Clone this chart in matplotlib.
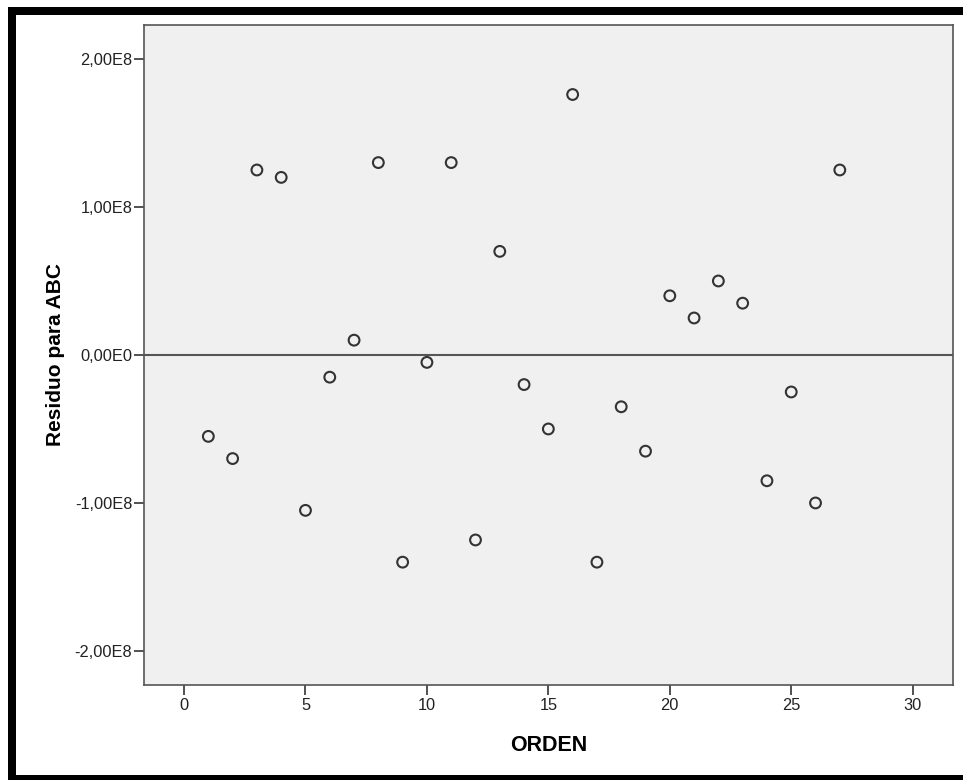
import matplotlib
matplotlib.use("Agg")
import matplotlib.pyplot as plt
from matplotlib.patches import Rectangle
from matplotlib.ticker import FuncFormatter

# data (residuals in units of 1e8)
orden = list(range(1, 28))
residuo = [-0.55, -0.70, 1.25, 1.20, -1.05, -0.15, 0.10, 1.30, -1.40, -0.05,
           1.30, -1.25, 0.70, -0.20, -0.50, 1.76, -1.40, -0.35, -0.65, 0.40,
           0.25, 0.50, 0.35, -0.85, -0.25, -1.00, 1.25]
residuo = [v * 1e8 for v in residuo]

x_ticks = [0, 5, 10, 15, 20, 25, 30]
y_ticks = [-2e8, -1e8, 0, 1e8, 2e8]

plt.rcParams["font.family"] = ["Liberation Sans", "DejaVu Sans"]

fig = plt.figure(figsize=(9.63, 7.8), dpi=100)
ax = fig.add_axes([0.1495, 0.1218, 0.8401, 0.8462])
ax.set_facecolor("#f0f0f0")

ax.axhline(0, color="#555555", lw=1.5, zorder=1)
ax.scatter(orden, residuo, s=60, facecolors="none", edgecolors="#333333",
           linewidths=1.5, zorder=3)

ax.set_xlim(-1.65, 31.66)
ax.set_ylim(-2.23e8, 2.23e8)
ax.set_xticks(x_ticks)
ax.set_yticks(y_ticks)


def fmt(v, pos):
    if v == 0:
        return "0,00E0"
    return ("%.2fE8" % (v / 1e8)).replace(".", ",")


ax.yaxis.set_major_formatter(FuncFormatter(fmt))
ax.tick_params(direction="out", length=7.5, width=1.2, color="#333333",
               labelsize=11.8, labelcolor="#222222")
ax.tick_params(axis="y", pad=1)
ax.tick_params(axis="x", pad=2)
for s in ax.spines.values():
    s.set_color("#555555")
    s.set_linewidth(1.2)

ax.set_xlabel("ORDEN", fontsize=15.5, fontweight="bold", labelpad=16)
ax.set_ylabel("Residuo para ABC", fontsize=15, fontweight="bold", labelpad=7)

# black frame (left, top, bottom)
fw, fh = 9.63 * 100, 7.8 * 100
fig.patches.append(Rectangle((8 / fw, 0), 8 / fw, 1 - 7 / fh, transform=fig.transFigure,
                             color="black", lw=0))
fig.patches.append(Rectangle((8 / fw, 1 - 15 / fh), 1, 8 / fh, transform=fig.transFigure,
                             color="black", lw=0))
fig.patches.append(Rectangle((8 / fw, 0), 1, 5 / fh, transform=fig.transFigure,
                             color="black", lw=0))

fig.savefig("out.png", dpi=100)
